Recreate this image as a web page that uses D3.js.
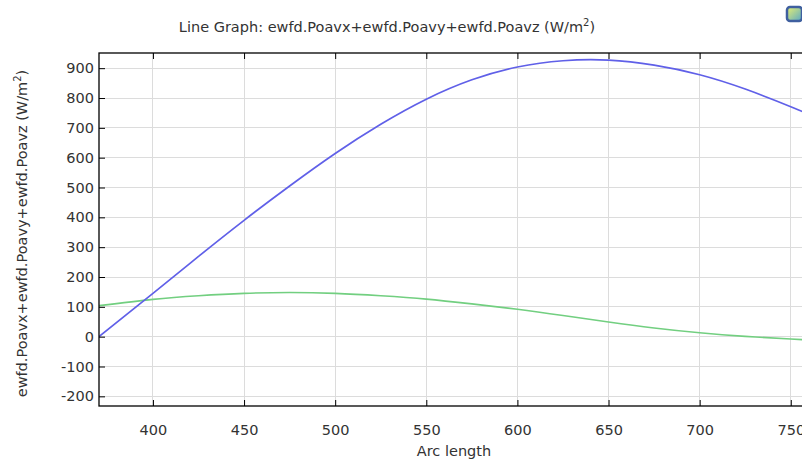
<!DOCTYPE html>
<html>
<head>
<meta charset="utf-8">
<script src="https://cdn.jsdelivr.net/npm/d3@7"></script>
<style>
  html, body { margin: 0; padding: 0; background: #fff; overflow: hidden; }
  svg { display: block; font-family: "DejaVu Sans", sans-serif; }
</style>
</head>
<body>
<svg id="chart" width="802" height="461"></svg>
<script>
// ---- data ----
const arcLength = [370.4, 400, 425, 450, 475, 500, 525, 550, 575, 600, 625, 650, 675, 700, 725, 750, 760];
const blueSeries = [0, 145, 269, 390, 505, 614, 712, 796, 861, 904, 925, 927, 910, 878, 830, 771, 745];
const greenSeries = [104, 125, 137, 145, 148, 145, 137, 126, 110, 92, 71, 49, 29, 13, 1, -8, -11];
const xTicks = [400, 450, 500, 550, 600, 650, 700, 750];
const yTicks = [-200, -100, 0, 100, 200, 300, 400, 500, 600, 700, 800, 900];
const xDomain = [370.4, 760];
const yDomain = [-232.4, 950.9];

const svg = d3.select("#chart");
const L = 99, R = 809, T = 53, B = 406;
const FS = "14.5px";

const x = d3.scaleLinear().domain(xDomain).range([L, R]);
const y = d3.scaleLinear().domain(yDomain).range([B, T]);

const defs = svg.append("defs");
defs.append("clipPath").attr("id", "plotclip")
  .append("rect").attr("x", L).attr("y", T).attr("width", R - L).attr("height", B - T);

// gridlines
const grid = svg.append("g");
grid.selectAll("line.gx").data(xTicks).join("line")
  .attr("x1", d => x(d)).attr("x2", d => x(d)).attr("y1", T).attr("y2", B)
  .attr("stroke", "#dcdcdc").attr("stroke-width", 1).attr("shape-rendering", "crispEdges");
grid.selectAll("line.gy").data(yTicks).join("line")
  .attr("x1", L).attr("x2", R).attr("y1", d => y(d)).attr("y2", d => y(d))
  .attr("stroke", "#dcdcdc").attr("stroke-width", 1).attr("shape-rendering", "crispEdges");

// lines
const line = (vals) => d3.line()
  .x((d, i) => x(arcLength[i]))
  .y(d => y(d))
  .curve(d3.curveNatural)(vals);

const plot = svg.append("g").attr("clip-path", "url(#plotclip)");
plot.append("path").attr("d", line(greenSeries))
  .attr("fill", "none").attr("stroke", "#72cf80").attr("stroke-width", 1.6);
plot.append("path").attr("d", line(blueSeries))
  .attr("fill", "none").attr("stroke", "#6060e8").attr("stroke-width", 1.7);

// axes
const fmt = d => String(d);
const axisStyle = g => {
  g.select(".domain").remove();
  g.selectAll(".tick line").attr("stroke", "#000").attr("stroke-width", 1);
  g.selectAll(".tick text").attr("fill", "#333").attr("font-size", FS)
    .attr("font-family", "DejaVu Sans, sans-serif");
};

svg.append("g").attr("transform", `translate(0,${B})`)
  .call(d3.axisBottom(x).tickValues(xTicks).tickSize(-6).tickPadding(19).tickFormat(fmt))
  .call(axisStyle);
svg.append("g").attr("transform", `translate(0,${T})`)
  .call(d3.axisTop(x).tickValues(xTicks).tickSize(-6).tickFormat(""))
  .call(axisStyle);
svg.append("g").attr("transform", `translate(${L},0)`)
  .call(d3.axisLeft(y).tickValues(yTicks).tickSize(-6).tickPadding(5).tickFormat(fmt))
  .call(axisStyle);

// frame
svg.append("rect").attr("x", L).attr("y", T).attr("width", R - L).attr("height", B - T)
  .attr("fill", "none").attr("stroke", "#000").attr("stroke-width", 1.3);

// title
const title = svg.append("text").attr("x", 387).attr("y", 32).attr("text-anchor", "middle")
  .attr("font-size", FS).attr("fill", "#333");
title.append("tspan").text("Line Graph: ewfd.Poavx+ewfd.Poavy+ewfd.Poavz (W/m");
title.append("tspan").attr("dy", -6).attr("font-size", "10px").text("2");
title.append("tspan").attr("dy", 6).text(")");

// x label
svg.append("text").attr("x", 454).attr("y", 456).attr("text-anchor", "middle")
  .attr("font-size", FS).attr("fill", "#333").text("Arc length");

// y label
const yl = svg.append("text").attr("transform", `translate(27,${(T + B) / 2 + 4}) rotate(-90)`)
  .attr("text-anchor", "middle").attr("font-size", FS).attr("fill", "#333");
yl.append("tspan").text("ewfd.Poavx+ewfd.Poavy+ewfd.Poavz (W/m");
yl.append("tspan").attr("dy", -6).attr("font-size", "10px").text("2");
yl.append("tspan").attr("dy", 6).text(")");

// small icon at top right
const icon = svg.append("g");
const grad = defs.append("linearGradient").attr("id", "ig").attr("x1", 0).attr("y1", 0).attr("x2", 1).attr("y2", 1);
grad.append("stop").attr("offset", "0%").attr("stop-color", "#e8f070");
grad.append("stop").attr("offset", "100%").attr("stop-color", "#58a8c8");
icon.append("rect").attr("x", 787).attr("y", 7).attr("width", 15).attr("height", 14).attr("rx", 3)
  .attr("fill", "url(#ig)").attr("stroke", "#3f5f9f").attr("stroke-width", 2.5);
</script>
</body>
</html>
